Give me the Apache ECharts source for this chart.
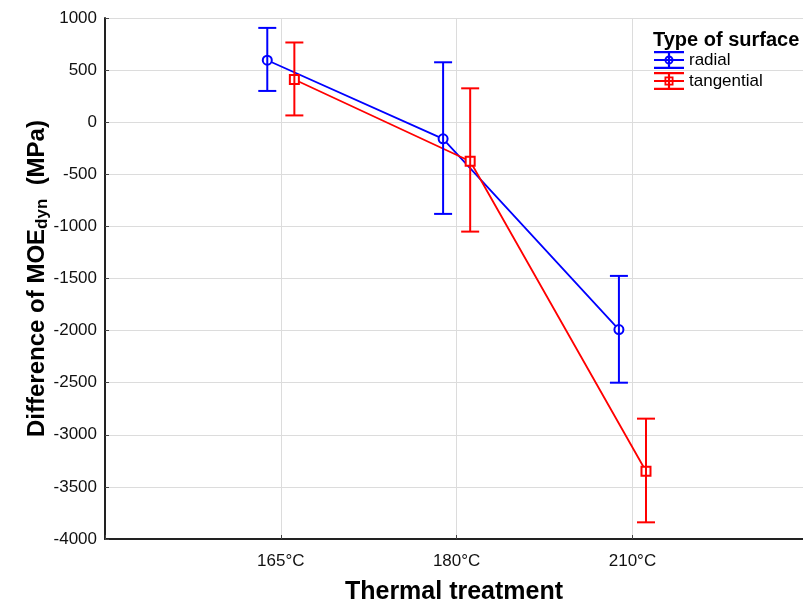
<!DOCTYPE html>
<html>
<head>
<meta charset="utf-8">
<script src="https://cdn.jsdelivr.net/npm/echarts@6/dist/echarts.min.js"></script>
<style>
html,body{margin:0;padding:0;background:#fff;}
#chart{width:803px;height:602px;}
</style>
</head>
<body>
<div id="chart"></div>
<script>
// ---- data ----
const categories = ['165°C', '180°C', '210°C'];
const radialMean = [595, -160, -1990];
const radialLow = [300, -880, -2500];
const radialHigh = [905, 575, -1475];
const tangentialMean = [410, -375, -3350];
const tangentialLow = [65, -1050, -3840];
const tangentialHigh = [765, 325, -2845];
const yTicks = { min: -4000, max: 1000, step: 500 };

// ---- style ----
const FONT = "'Liberation Sans', Arial, sans-serif";
const BLUE = '#0000ff';
const RED = '#ff0000';
const OFFSET = 0.077;

function pts(mean, off) {
  return mean.map((v, i) => [i + 1 + off, v]);
}
function bars(low, high, off) {
  return low.map((v, i) => [i + 1 + off, v, high[i]]);
}
function errRender(color) {
  return function (params, api) {
    const x = api.value(0), lo = api.value(1), hi = api.value(2);
    const a = api.coord([x, hi]);
    const b = api.coord([x, lo]);
    const w = 9;
    const st = { stroke: color, lineWidth: 2 };
    return {
      type: 'group',
      children: [
        { type: 'line', shape: { x1: a[0], y1: a[1], x2: b[0], y2: b[1] }, style: st },
        { type: 'line', shape: { x1: a[0] - w, y1: a[1], x2: a[0] + w, y2: a[1] }, style: st },
        { type: 'line', shape: { x1: b[0] - w, y1: b[1], x2: b[0] + w, y2: b[1] }, style: st }
      ]
    };
  };
}

const barsPath = 'M0,0H30V2.2H0Z M0,7.9H30V10.1H0Z M0,15.8H30V18H0Z M13.9,0H16.1V18H13.9Z ';
const iconCircle = 'path://' + barsPath +
  'M19.5,9A4.5,4.5,0,1,1,10.5,9A4.5,4.5,0,1,1,19.5,9Z M17.6,9A2.6,2.6,0,1,0,12.4,9A2.6,2.6,0,1,0,17.6,9Z';
const iconSquare = 'path://' + barsPath +
  'M10.5,4.5H19.5V13.5H10.5Z M12.3,6.3V11.7H17.7V6.3Z';

const chart = echarts.init(document.getElementById('chart'), null, { renderer: 'canvas' });
chart.setOption({
  backgroundColor: '#fff',
  animation: false,
  textStyle: { fontFamily: FONT },
  title: {
    text: 'Type of surface',
    left: 648, top: 25,
    textStyle: { fontFamily: FONT, fontSize: 20, fontWeight: 'bold', color: '#000' }
  },
  legend: {
    orient: 'vertical',
    left: 649, top: 46,
    itemWidth: 30, itemHeight: 18, itemGap: 3,
    textStyle: { fontFamily: FONT, fontSize: 17, color: '#000' },
    data: [
      { name: 'radial', icon: iconCircle, itemStyle: { color: BLUE, borderWidth: 0 } },
      { name: 'tangential', icon: iconSquare, itemStyle: { color: RED, borderWidth: 0 } }
    ]
  },
  grid: { left: 105, right: 0, top: 18, bottom: 63, containLabel: false, outerBoundsMode: 'none' },
  xAxis: {
    type: 'value', min: 0, max: 3.97, interval: 1,
    name: 'Thermal treatment', nameLocation: 'middle', nameGap: 41, nameMoveOverlap: false,
    nameTextStyle: { fontFamily: FONT, fontSize: 25, fontWeight: 'bold', color: '#000' },
    axisLine: { show: true, onZero: false, lineStyle: { color: '#222', width: 2 } },
    axisTick: { show: true, inside: true, length: 4, lineStyle: { color: '#444' } },
    axisLabel: {
      margin: 14, fontSize: 17, color: '#111', fontFamily: FONT, showMaxLabel: false,
      formatter: v => (v >= 1 && v <= categories.length && Number.isInteger(v)) ? categories[v - 1] : ''
    },
    splitLine: { show: true, lineStyle: { color: '#dcdcdc', width: 1 } }
  },
  yAxis: {
    type: 'value', min: yTicks.min, max: yTicks.max, interval: yTicks.step,
    name: 'Difference of MOE{sub|dyn}  (MPa)', nameLocation: 'middle', nameGap: 54, nameMoveOverlap: false,
    nameTextStyle: {
      fontFamily: FONT, fontSize: 24, fontWeight: 'bold', color: '#000', lineHeight: 28,
      rich: { sub: { fontFamily: FONT, fontSize: 17, fontWeight: 'bold', color: '#000', lineHeight: 15, verticalAlign: 'bottom' } }
    },
    axisLine: { show: true, lineStyle: { color: '#222', width: 2 } },
    axisTick: { show: true, inside: true, length: 4, lineStyle: { color: '#444' } },
    axisLabel: { margin: 8, fontSize: 17, color: '#111', fontFamily: FONT, formatter: v => String(v) },
    splitLine: { show: true, lineStyle: { color: '#dcdcdc', width: 1 } }
  },
  series: [
    {
      name: 'radial', type: 'line', data: pts(radialMean, -OFFSET), z: 2,
      symbol: 'emptyCircle', symbolSize: 9,
      lineStyle: { color: BLUE, width: 1.8 },
      itemStyle: { color: BLUE, borderWidth: 2 }
    },
    {
      name: 'tangential', type: 'line', data: pts(tangentialMean, OFFSET), z: 2,
      symbol: 'emptyRect', symbolSize: 9,
      lineStyle: { color: RED, width: 1.8 },
      itemStyle: { color: RED, borderWidth: 2 }
    },
    {
      name: 'radial-err', type: 'custom', z: 3,
      data: bars(radialLow, radialHigh, -OFFSET),
      encode: { x: 0, y: [1, 2] },
      renderItem: errRender(BLUE)
    },
    {
      name: 'tangential-err', type: 'custom', z: 3,
      data: bars(tangentialLow, tangentialHigh, OFFSET),
      encode: { x: 0, y: [1, 2] },
      renderItem: errRender(RED)
    }
  ]
});
</script>
</body>
</html>
